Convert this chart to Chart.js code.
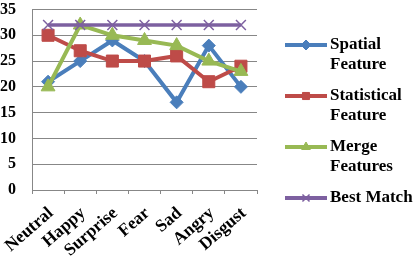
<!DOCTYPE html>
<html>
<head>
<meta charset="utf-8">
<script src="https://cdn.jsdelivr.net/npm/chart.js@4.4.0/dist/chart.umd.min.js"></script>
<style>
  html, body { margin: 0; padding: 0; background: #fff; }
  #wrap { width: 415px; height: 258px; }
</style>
</head>
<body>
<div id="wrap"><canvas id="chart" width="415" height="258"></canvas></div>
<script>
// data
const categories = ['Neutral', 'Happy', 'Surprise', 'Fear', 'Sad', 'Angry', 'Disgust'];
const spatial = [21, 25, 29, 25, 17, 28, 20];
const statistical = [30, 27, 25, 25, 26, 21, 24];
const merge = [20, 32, 30, 29, 28, 25, 23];
const bestMatch = [32, 32, 32, 32, 32, 32, 32];
const yTicks = [0, 5, 10, 15, 20, 25, 30, 35];
const legendLabels = [['Spatial', 'Feature'], ['Statistical', 'Feature'], ['Merge', 'Features'], ['Best Match']];

const FONT = '"Liberation Serif", "Times New Roman", serif';
const GRID = '#878787';

// legend drawn by hand so labels can wrap like the original
const sideLegend = {
  id: 'sideLegend',
  afterDraw(chart) {
    const ctx = chart.ctx;
    const x0 = 285, x1 = 327, tx = 330;
    let y = 45;
    ctx.save();
    ctx.font = 'bold 17px ' + FONT;
    ctx.textBaseline = 'middle';
    chart.data.datasets.forEach((ds, i) => {
      ctx.strokeStyle = ds.borderColor;
      ctx.lineWidth = 4;
      ctx.beginPath();
      ctx.moveTo(x0, y);
      ctx.lineTo(x1, y);
      ctx.stroke();
      ctx.fillStyle = ds.pointBackgroundColor;
      ctx.strokeStyle = ds.pointBorderColor;
      ctx.lineWidth = ds.pointBorderWidth;
      Chart.helpers.drawPoint(ctx, {
        pointStyle: ds.pointStyle,
        rotation: 0,
        radius: 5,
        borderWidth: ds.pointBorderWidth
      }, (x0 + x1) / 2, y);
      ctx.fillStyle = '#000';
      legendLabels[i].forEach((line, j) => {
        ctx.fillText(line, tx, y + j * 20);
      });
      y += 51;
    });
    ctx.restore();
  }
};

function series(label, data, color, style, radius, order) {
  return {
    label,
    data,
    borderColor: color,
    backgroundColor: color,
    pointBackgroundColor: color,
    pointBorderColor: color,
    pointStyle: style,
    pointRadius: radius,
    pointHoverRadius: radius,
    pointBorderWidth: style === 'crossRot' ? 1.5 : 1,
    borderWidth: style === 'crossRot' ? 3.5 : 4,
    tension: 0,
    order
  };
}

new Chart(document.getElementById('chart'), {
  type: 'line',
  data: {
    labels: categories,
    datasets: [
      series('Spatial Feature', spatial, '#4a7ebb', 'rectRot', 6.5, 4),
      series('Statistical Feature', statistical, '#be4b48', 'rect', 8.5, 3),
      series('Merge Features', merge, '#98b954', 'triangle', 8, 2),
      series('Best Match', bestMatch, '#7d60a0', 'crossRot', 7, 1)
    ]
  },
  options: {
    responsive: false,
    animation: false,
    layout: { padding: { top: 9, right: 158, left: 0, bottom: 0 } },
    plugins: {
      legend: { display: false },
      tooltip: { enabled: false }
    },
    scales: {
      x: {
        offset: true,
        grid: { offset: true, drawOnChartArea: false, drawTicks: true, tickLength: 4, color: GRID },
        border: { color: GRID, width: 1 },
        ticks: {
          maxRotation: 41, minRotation: 41, autoSkip: false, padding: 9, labelOffset: 3,
          color: '#000', font: { family: FONT, size: 17.5, weight: 'bold' }
        },
        afterFit(scale) {
          scale.height = 68;
          scale.paddingLeft = 0;
          scale.paddingRight = 0;
        }
      },
      y: {
        min: 0, max: 35,
        afterBuildTicks(scale) { scale.ticks = yTicks.map(v => ({ value: v })); },
        grid: { color: GRID, drawTicks: false },
        border: { color: GRID, width: 1 },
        ticks: {
          padding: 16,
          color: '#000', font: { family: FONT, size: 16, weight: 'bold' }
        },
        afterFit(scale) {
          scale.width = 32;
          scale.paddingTop = 0;
          scale.paddingBottom = 0;
        }
      }
    }
  },
  plugins: [sideLegend]
});
</script>
</body>
</html>
